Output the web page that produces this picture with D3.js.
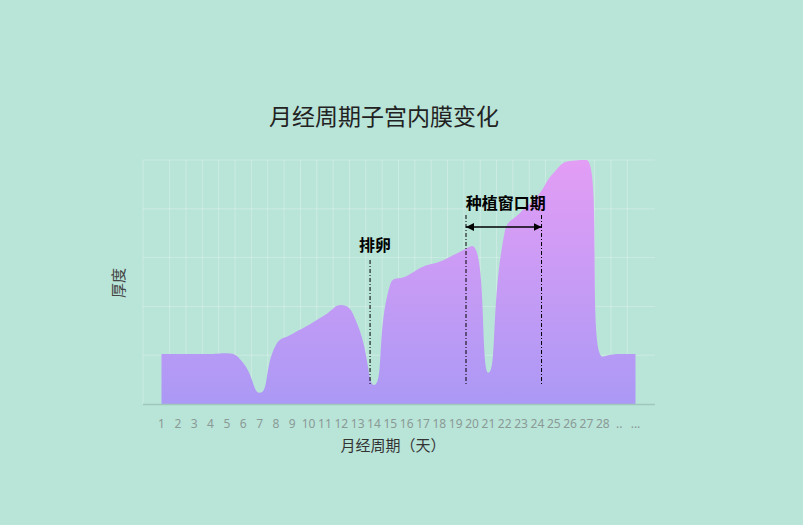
<!DOCTYPE html>
<html>
<head>
<meta charset="utf-8">
<script src="https://cdn.jsdelivr.net/npm/d3@7"></script>
<style>
  html, body { margin: 0; padding: 0; background: #b9e4d8; }
  svg { display: block; font-family: "Noto Sans", "Noto Sans CJK SC", sans-serif; }
</style>
</head>
<body>
<svg id="chart" width="803" height="525"></svg>
<script>
// categories on the x axis
let days = ["1", "2", "3", "4", "5", "6", "7", "8", "9", "10", "11", "12", "13", "14",
    "15", "16", "17", "18", "19", "20", "21", "22", "23", "24", "25", "26", "27", "28", "..", "..."];

// endometrium thickness
let thickness = [2.05, 2.05, 2.05, 2.05, 2.08, 1.68, 0.46, 2.42, 2.87, 3.24, 3.65, 4.06, 3.24, 0.78,
    4.92, 5.25, 5.63, 5.83, 6.15, 6.48, 1.28, 7.06, 7.88, 8.52, 9.48, 9.96, 10, 1.94, 2.05, 2.05];

let yTicks = [0, 2, 4, 6, 8, 10];

// annotations (x in category index units)
let ovulation = {label: "排卵", at: 12.76};
let windowStart = 18.63, windowEnd = 23.25;
let windowLabel = "种植窗口期";

let svg = d3.select("#chart");

let plotLeft = 143, plotRight = 655, plotTop = 160, plotBottom = 404;

let x = d3.scaleLinear()
    .domain([0, days.length - 1])
    .range([161.5, 635.5]);

let y = d3.scaleLinear()
    .domain([0, 10])
    .range([plotBottom, plotTop]);

// smoothing the way echarts does it: handles from the neighbours,
// kept inside the box of each segment so nothing overshoots
function smoothCurve(context) {
    let smooth = 0.5;
    return {
        _line: NaN,
        areaStart() { this._line = 0; },
        areaEnd() { this._line = NaN; },
        lineStart() { this._pts = []; },
        point(px, py) { this._pts.push([+px, +py]); },
        lineEnd() {
            let pts = this._pts, n = pts.length;
            if (!n) return;
            if (this._line) context.lineTo(pts[0][0], pts[0][1]);
            else context.moveTo(pts[0][0], pts[0][1]);
            let cp0x = pts[0][0], cp0y = pts[0][1];
            for (let i = 1; i < n; i++) {
                let [px, py] = pts[i - 1], [cx, cy] = pts[i];
                let next = pts[i + 1];
                let cp1x, cp1y, ncx, ncy;
                if (!next) {
                    cp1x = cx; cp1y = cy;
                } else {
                    let [nx, ny] = next;
                    let vx = nx - px, vy = ny - py;
                    let lenPrev = Math.hypot(cx - px, cy - py);
                    let lenNext = Math.hypot(nx - cx, ny - cy);
                    let ratio = lenNext / (lenNext + lenPrev);
                    ncx = cx + vx * smooth * ratio;
                    ncy = cy + vy * smooth * ratio;
                    ncx = Math.max(Math.min(ncx, Math.max(nx, cx)), Math.min(nx, cx));
                    ncy = Math.max(Math.min(ncy, Math.max(ny, cy)), Math.min(ny, cy));
                    vx = ncx - cx; vy = ncy - cy;
                    cp1x = cx - vx * lenPrev / lenNext;
                    cp1y = cy - vy * lenPrev / lenNext;
                    cp1x = Math.max(Math.min(cp1x, Math.max(px, cx)), Math.min(px, cx));
                    cp1y = Math.max(Math.min(cp1y, Math.max(py, cy)), Math.min(py, cy));
                    vx = cx - cp1x; vy = cy - cp1y;
                    ncx = cx + vx * lenNext / lenPrev;
                    ncy = cy + vy * lenNext / lenPrev;
                }
                context.bezierCurveTo(cp0x, cp0y, cp1x, cp1y, cx, cy);
                cp0x = ncx; cp0y = ncy;
            }
            if (this._line || (this._line !== 0 && n === 1)) context.closePath();
            this._line = 1 - this._line;
        }
    };
}

let grid = svg.append("g").attr("class", "grid");

// horizontal grid lines
grid.selectAll("line.h")
    .data(yTicks.slice(1))
    .enter().append("line")
    .attr("x1", plotLeft).attr("x2", plotRight)
    .attr("y1", d => y(d)).attr("y2", d => y(d))
    .attr("stroke", "#ffffff").attr("stroke-opacity", 0.28);

// vertical grid lines between categories
let vLines = [-1.13].concat(d3.range(0.5, days.length - 1, 1));
grid.selectAll("line.v")
    .data(vLines)
    .enter().append("line")
    .attr("x1", d => x(d)).attr("x2", d => x(d))
    .attr("y1", plotTop).attr("y2", plotBottom)
    .attr("stroke", "#ffffff").attr("stroke-opacity", 0.28);

// gradient for the area
let defs = svg.append("defs");
let grad = defs.append("linearGradient")
    .attr("id", "areaGrad")
    .attr("gradientUnits", "userSpaceOnUse")
    .attr("x1", 0).attr("y1", plotTop)
    .attr("x2", 0).attr("y2", plotBottom);
grad.append("stop").attr("offset", "0%").attr("stop-color", "#e39df5");
grad.append("stop").attr("offset", "100%").attr("stop-color", "#ab99f5");

let area = d3.area()
    .x((d, i) => x(i))
    .y0(plotBottom)
    .y1(d => y(d))
    .curve(smoothCurve);

svg.append("path")
    .datum(thickness)
    .attr("d", area)
    .attr("fill", "url(#areaGrad)");

// x axis
let xAxis = svg.append("g");
xAxis.append("line")
    .attr("x1", plotLeft).attr("x2", plotRight)
    .attr("y1", plotBottom + 0.5).attr("y2", plotBottom + 0.5)
    .attr("stroke", "#9fc7bb").attr("stroke-width", 1.5);

xAxis.selectAll("text")
    .data(days)
    .enter().append("text")
    .attr("x", (d, i) => x(i))
    .attr("y", 428)
    .attr("text-anchor", "middle")
    .attr("font-size", 12)
    .attr("fill", "#8a9a96")
    .text(d => d);

svg.append("text")
    .attr("x", 393).attr("y", 451)
    .attr("text-anchor", "middle")
    .attr("font-size", 15)
    .attr("font-family", "'Noto Sans CJK SC', sans-serif")
    .attr("fill", "#333")
    .text("月经周期（天）");

svg.append("text")
    .attr("transform", "translate(124,283) rotate(-90)")
    .attr("text-anchor", "middle")
    .attr("font-size", 15)
    .attr("font-family", "'Noto Sans CJK SC', sans-serif")
    .attr("fill", "#444")
    .text("厚度");

// title
svg.append("text")
    .attr("x", 384).attr("y", 125)
    .attr("text-anchor", "middle")
    .attr("font-size", 23)
    .attr("font-family", "'Noto Sans CJK SC', sans-serif")
    .attr("fill", "#222")
    .text("月经周期子宫内膜变化");

// annotations
let dash = "4,2,1,2";
let notes = svg.append("g");

notes.append("line")
    .attr("x1", x(ovulation.at)).attr("x2", x(ovulation.at))
    .attr("y1", 260).attr("y2", 385)
    .attr("stroke", "#000").attr("stroke-dasharray", dash);
notes.append("text")
    .attr("x", x(ovulation.at) + 5).attr("y", 251)
    .attr("text-anchor", "middle")
    .attr("font-size", 16).attr("font-weight", "bold")
    .attr("font-family", "'Noto Sans CJK SC', sans-serif")
    .text(ovulation.label);

[windowStart, windowEnd].forEach(d => {
    notes.append("line")
        .attr("x1", x(d)).attr("x2", x(d))
        .attr("y1", 215).attr("y2", 386)
        .attr("stroke", "#000").attr("stroke-dasharray", dash);
});

defs.append("marker")
    .attr("id", "arrow")
    .attr("viewBox", "0 0 10 10")
    .attr("refX", 10).attr("refY", 5)
    .attr("markerWidth", 8).attr("markerHeight", 8)
    .attr("markerUnits", "userSpaceOnUse")
    .attr("orient", "auto-start-reverse")
    .append("path")
    .attr("d", "M0,0 L10,5 L0,10 z")
    .attr("fill", "#000");

notes.append("line")
    .attr("x1", x(windowStart)).attr("x2", x(windowEnd))
    .attr("y1", 227).attr("y2", 227)
    .attr("stroke", "#000").attr("stroke-width", 1.3)
    .attr("marker-start", "url(#arrow)")
    .attr("marker-end", "url(#arrow)");

notes.append("text")
    .attr("x", (x(windowStart) + x(windowEnd)) / 2 + 2).attr("y", 209)
    .attr("text-anchor", "middle")
    .attr("font-size", 16).attr("font-weight", "bold")
    .attr("font-family", "'Noto Sans CJK SC', sans-serif")
    .text(windowLabel);
</script>
</body>
</html>
